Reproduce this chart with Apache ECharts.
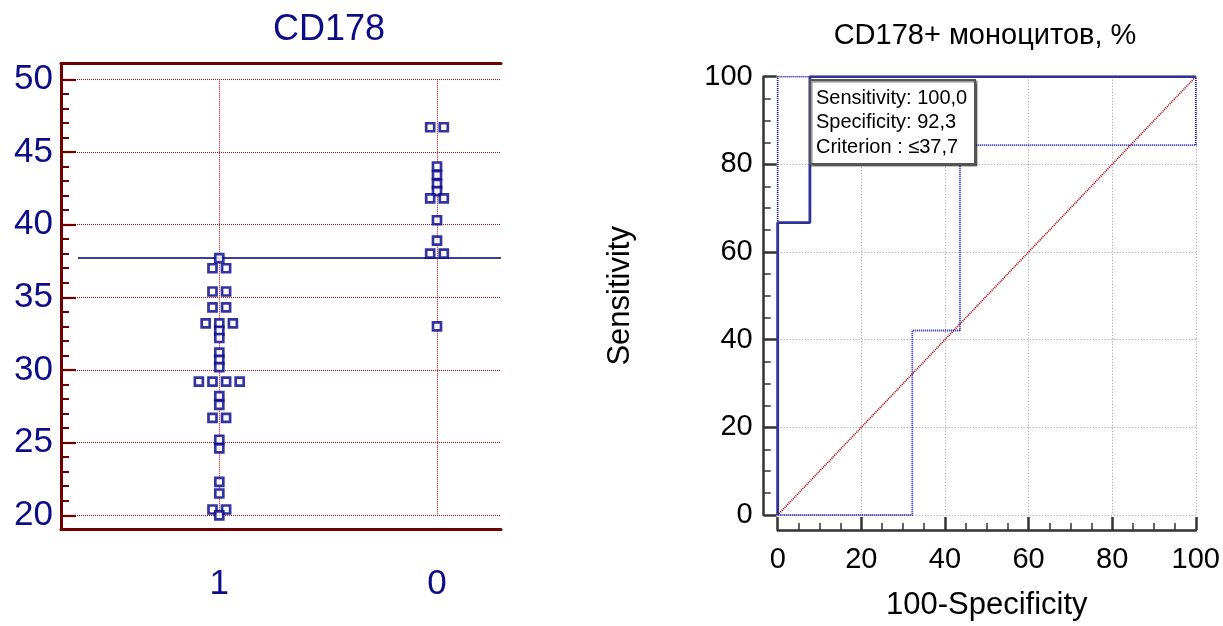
<!DOCTYPE html>
<html>
<head>
<meta charset="utf-8">
<script src="https://cdn.jsdelivr.net/npm/echarts@6/dist/echarts.min.js"></script>
<style>html,body{margin:0;padding:0;background:#fff}#c{width:1223px;height:626px}</style>
</head>
<body>
<div id="c"></div>
<script>
// ---------- data ----------
const categories = ['1', '0'];
const group1Values = [37.7, 37.0, 37.0, 35.4, 35.4, 34.3, 34.3, 33.2, 33.2, 33.2, 32.7, 32.2, 31.2, 30.7, 30.2,
  29.2, 29.2, 29.2, 29.2, 28.2, 27.6, 26.7, 26.7, 25.2, 24.6, 22.3, 21.5, 20.4, 20.4, 20.0];
const group0Values = [46.7, 46.7, 44.0, 43.4, 42.8, 42.3, 41.8, 41.8, 40.3, 38.9, 38.0, 38.0, 33.0];
const criterionValue = 37.7;
const leftTitle = 'CD178';

const rocX = [0, 0, 7.7, 7.7, 100];
const rocY = [0, 66.7, 66.7, 100, 100];
const ciUpperX = [0, 0, 100];
const ciUpperY = [0, 100, 100];
const ciLowerX = [0, 32.2, 32.2, 43.6, 43.6, 100, 100];
const ciLowerY = [0, 0, 42.1, 42.1, 84.4, 84.4, 100];
const diagX = [0, 100];
const diagY = [0, 100];
const rightTitle = 'CD178+ моноцитов, %';
const boxLines = ['Sensitivity: 100,0', 'Specificity: 92,3', 'Criterion : \u226437,7'];

// ---------- helpers ----------
const FONT = '"Liberation Sans", Arial, sans-serif';
const NAVY = '#0c0c88';
const DARKRED = '#6e0000';
const X_MIN = 0.2729, X_MAX = 2.294;
const JITTER = 0.0625;

function dotPlot(values, pos) {
  const counts = {}, seen = {};
  values.forEach(v => { counts[v] = (counts[v] || 0) + 1; });
  return values.map(v => {
    const i = seen[v] || 0; seen[v] = i + 1;
    return [pos + (i - (counts[v] - 1) / 2) * JITTER, v];
  });
}
const zip = (xs, ys) => xs.map((x, i) => [x, ys[i]]);

const markerStyle = { color: '#fff', borderColor: '#00008a', borderWidth: 2.7 };

const chart = echarts.init(document.getElementById('c'));
chart.setOption({
  animation: false,
  backgroundColor: '#fff',
  title: [
    { text: leftTitle, left: 329, top: 12, textAlign: 'center', padding: 0,
      textStyle: { color: NAVY, fontSize: 36, fontWeight: 'normal', fontFamily: FONT } },
    { text: rightTitle, left: 985, top: 21, textAlign: 'center', padding: 0,
      textStyle: { color: '#000', fontSize: 29, fontWeight: 'normal', fontFamily: FONT } },
    { text: boxLines.join('\n'), left: 810, top: 80, padding: [6, 8, 5, 6], z: 20,
      backgroundColor: '#fff', borderColor: '#555', borderWidth: 2,
      shadowColor: 'rgba(0,0,0,0.45)', shadowOffsetX: 1.5, shadowOffsetY: 1.5, shadowBlur: 1,
      textStyle: { color: '#000', fontSize: 20, fontWeight: 'normal', lineHeight: 24.5, fontFamily: FONT } }
  ],
  grid: [
    { left: 61, right: 722, top: 79.3, bottom: 110.7 },   // left data grid
    { left: 61, right: 722, top: 63.3, bottom: 96.7 },    // left frame
    { left: 777.7, right: 27, top: 76.7, bottom: 106 }    // ROC grid
  ],
  xAxis: [
    { gridIndex: 0, type: 'value', min: X_MIN, max: X_MAX,
      axisLine: { show: false },
      axisTick: { show: false, customValues: [1, 2] },
      axisLabel: { customValues: [1, 2], margin: 52, color: NAVY, fontSize: 35, fontFamily: FONT,
        formatter: v => categories[Math.round(v) - 1] },
      splitLine: { show: true, lineStyle: { color: '#a01818', type: [1, 1], width: 1.1 } } },
    { gridIndex: 1, type: 'value', min: 0, max: 1, position: 'bottom',
      axisLine: { show: true, onZero: false, lineStyle: { color: DARKRED, width: 3 } },
      axisTick: { show: false }, axisLabel: { show: false }, splitLine: { show: false } },
    { gridIndex: 1, type: 'value', min: 0, max: 1, position: 'top',
      axisLine: { show: true, onZero: false, lineStyle: { color: DARKRED, width: 3 } },
      axisTick: { show: false }, axisLabel: { show: false }, splitLine: { show: false } },
    { gridIndex: 2, type: 'value', min: 0, max: 100, interval: 20, offset: 15,
      name: '100-Specificity', nameLocation: 'middle', nameGap: 60,
      nameTextStyle: { color: '#000', fontSize: 31, fontFamily: FONT },
      axisLine: { show: true, onZero: false, lineStyle: { color: '#333', width: 2.5 } },
      axisTick: { show: true, inside: true, length: 13, lineStyle: { color: '#333', width: 2.5 } },
      minorTick: { show: true, splitNumber: 4, length: 7, lineStyle: { color: '#333', width: 1.5 } },
      axisLabel: { color: '#000', fontSize: 29, fontFamily: FONT, margin: 15 },
      splitLine: { show: true, lineStyle: { color: '#999', type: [1, 2], width: 1 } } }
  ],
  yAxis: [
    { gridIndex: 0, type: 'value', min: 20, max: 50, interval: 5,
      axisLine: { show: false },
      axisTick: { show: true, inside: true, length: 15, lineStyle: { color: DARKRED, width: 2.2 } },
      minorTick: { show: true, splitNumber: 5, length: 8, lineStyle: { color: DARKRED, width: 2 } },
      axisLabel: { color: NAVY, fontSize: 35, fontFamily: FONT, margin: 8 },
      splitLine: { show: true, lineStyle: { color: '#a01818', type: [1, 1], width: 1.1 } } },
    { gridIndex: 1, type: 'value', min: 0, max: 1,
      axisLine: { show: true, onZero: false, lineStyle: { color: DARKRED, width: 3 } },
      axisTick: { show: false }, axisLabel: { show: false }, splitLine: { show: false } },
    { gridIndex: 2, type: 'value', min: 0, max: 100, interval: 20, offset: 14,
      name: 'Sensitivity', nameLocation: 'middle', nameGap: 128,
      nameTextStyle: { color: '#000', fontSize: 31, fontFamily: FONT },
      axisLine: { show: true, onZero: false, lineStyle: { color: '#333', width: 2.5 } },
      axisTick: { show: true, inside: true, length: 13, lineStyle: { color: '#333', width: 2.5 } },
      minorTick: { show: true, splitNumber: 4, length: 7, lineStyle: { color: '#333', width: 1.5 } },
      axisLabel: { color: '#000', fontSize: 29, fontFamily: FONT, margin: 11 },
      splitLine: { show: true, lineStyle: { color: '#999', type: [1, 2], width: 1 } } }
  ],
  series: [
    { type: 'scatter', xAxisIndex: 0, yAxisIndex: 0, symbol: 'rect', symbolSize: 8, z: 5,
      itemStyle: markerStyle, data: dotPlot(group1Values, 1),
      markLine: { silent: true, symbol: 'none', z: 1, label: { show: false },
        lineStyle: { color: '#3c3ca2', width: 2, type: 'solid' },
        data: [[{ coord: [0.351, criterionValue] }, { coord: [X_MAX, criterionValue] }]] } },
    { type: 'scatter', xAxisIndex: 0, yAxisIndex: 0, symbol: 'rect', symbolSize: 8, z: 5,
      itemStyle: markerStyle, data: dotPlot(group0Values, 2) },
    { type: 'line', xAxisIndex: 3, yAxisIndex: 2, showSymbol: false, symbol: 'none', z: 2,
      lineStyle: { color: '#a00000', width: 1.7, type: [1, 1] }, data: zip(diagX, diagY) },
    { type: 'line', xAxisIndex: 3, yAxisIndex: 2, showSymbol: false, symbol: 'none', z: 3,
      lineStyle: { color: '#1c1cac', width: 1.8, type: [1, 1] }, data: zip(ciUpperX, ciUpperY) },
    { type: 'line', xAxisIndex: 3, yAxisIndex: 2, showSymbol: false, symbol: 'none', z: 3,
      lineStyle: { color: '#1c1cac', width: 1.8, type: [1, 1] }, data: zip(ciLowerX, ciLowerY) },
    { type: 'line', xAxisIndex: 3, yAxisIndex: 2, showSymbol: false, symbol: 'none', z: 4,
      lineStyle: { color: '#30309a', width: 2.8, type: 'solid' }, data: zip(rocX, rocY) }
  ]
});
</script>
</body>
</html>
